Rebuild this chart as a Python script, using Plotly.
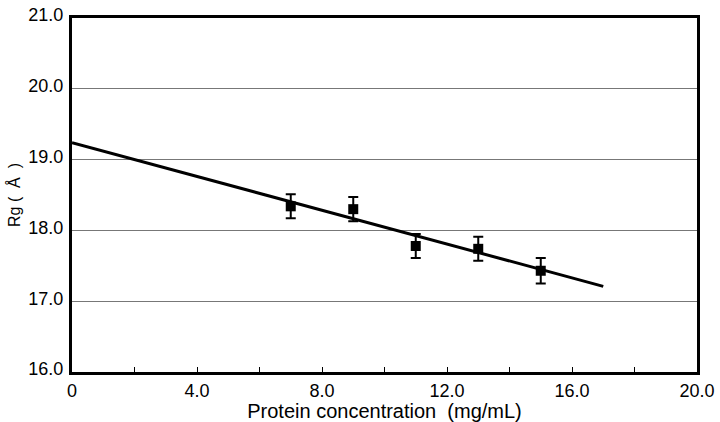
import plotly.graph_objects as go

conc = [7.0, 9.0, 11.0, 13.0, 15.0]
rg = [18.34, 18.30, 17.78, 17.74, 17.43]
rg_err = [0.17, 0.17, 0.17, 0.17, 0.18]
fit_x = [0.0, 17.0]
fit_y = [19.24, 17.21]
x_tickvals = [0, 4, 8, 12, 16, 20]
x_ticktext = ["0", "4.0", "8.0", "12.0", "16.0", "20.0"]
y_tickvals = [16, 17, 18, 19, 20, 21]
y_ticktext = ["16.0", "17.0", "18.0", "19.0", "20.0", "21.0"]

fig = go.Figure()
fig.add_trace(go.Scatter(x=fit_x, y=fit_y, mode="lines",
                         line=dict(color="black", width=3), showlegend=False))
fig.add_trace(go.Scatter(x=conc, y=rg, mode="markers",
                         marker=dict(symbol="square", size=10, color="black"),
                         error_y=dict(type="data", array=rg_err, color="black",
                                      thickness=2, width=5),
                         showlegend=False))

font = dict(family="Liberation Sans, Arial, sans-serif", size=16, color="black")
fig.update_layout(
    width=720, height=422,
    margin=dict(l=72, r=18, t=5, b=50),
    paper_bgcolor="white", plot_bgcolor="white",
    font=font,
    xaxis=dict(range=[0, 20], tickvals=x_tickvals, ticktext=x_ticktext,
               showgrid=False, zeroline=False,
               showline=True, linecolor="black", linewidth=3, mirror=True,
               ticks="inside", ticklen=5, tickwidth=1, tickcolor="black",
               minor=dict(ticks="inside", dtick=2, ticklen=5, tickwidth=1, tickcolor="black"),
               title=dict(text="Protein concentration  (mg/mL)", standoff=2,
                          font=dict(size=20)),
               tickfont=dict(size=18), ticklabeloverflow="allow"),
    yaxis=dict(range=[16, 21], tickvals=y_tickvals, ticktext=y_ticktext,
               showgrid=True, gridcolor="#777777", gridwidth=1, zeroline=False,
               showline=True, linecolor="black", linewidth=3, mirror=True,
               ticks="", ticklabelshift=-3, ticklabelstandoff=2,
               title=dict(text="Rg (  Å  )", standoff=4, font=dict(size=16)),
               tickfont=dict(size=18), ticklabeloverflow="allow"),
)
fig.write_html("out.html", config={"displayModeBar": False},
               post_script="document.body.style.margin='0px';")
